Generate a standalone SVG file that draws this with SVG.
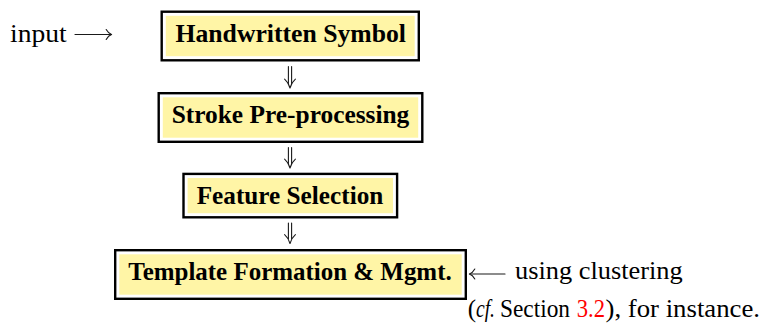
<svg xmlns="http://www.w3.org/2000/svg" width="766" height="325" viewBox="0 0 766 325">
  <defs>
    <style>
      .frame { fill: #ffffff; stroke: #000000; stroke-width: 2.4; }
      .fill { fill: #fff5a6; stroke: none; }
      .label { font-family: "Liberation Serif", "Times New Roman", serif; font-size: 25px; font-weight: bold; fill: #000000; }
      .note { font-family: "Liberation Serif", "Times New Roman", serif; font-size: 25px; fill: #000000; }
      .arr { fill: none; stroke: #1a1a1a; stroke-width: 1.1; stroke-linecap: round; stroke-linejoin: round; }
    </style>
  </defs>

  <rect x="0" y="0" width="766" height="325" fill="#ffffff"/>

  <g id="node-handwritten-symbol">
    <rect class="frame" x="161.7" y="11.7" width="257.1" height="48.6"/>
    <rect class="fill" x="165.8" y="15.8" width="248.9" height="40.4"/>
    <text class="label" x="175.5" y="41.7" textLength="230.5" lengthAdjust="spacingAndGlyphs">Handwritten Symbol</text>
  </g>

  <g id="node-stroke-preprocessing">
    <rect class="frame" x="158.7" y="93.2" width="263.6" height="48.6"/>
    <rect class="fill" x="162.8" y="97.3" width="255.4" height="40.4"/>
    <text class="label" x="171.7" y="123" textLength="237.6" lengthAdjust="spacingAndGlyphs">Stroke Pre-processing</text>
  </g>

  <g id="node-feature-selection">
    <rect class="frame" x="183.5" y="173.9" width="213.6" height="43.4"/>
    <rect class="fill" x="187.6" y="178" width="205.4" height="35.2"/>
    <text class="label" x="196.7" y="204" textLength="186.6" lengthAdjust="spacingAndGlyphs">Feature Selection</text>
  </g>

  <g id="node-template-formation">
    <rect class="frame" x="115.2" y="250.2" width="350.6" height="48.6"/>
    <rect class="fill" x="119.3" y="254.3" width="342.4" height="40.4"/>
    <text class="label" x="128.3" y="279.5" textLength="323.4" lengthAdjust="spacingAndGlyphs">Template Formation &amp; Mgmt.</text>
  </g>

  <g id="label-input">
    <text class="note" x="10" y="41.7" textLength="56.7" lengthAdjust="spacingAndGlyphs">input</text>
  </g>

  <g id="label-clustering">
    <text class="note" x="515" y="279" textLength="167.7" lengthAdjust="spacingAndGlyphs">using clustering</text>
    <text class="note" y="316.7"><tspan x="467.7">(</tspan><tspan x="476" font-style="italic" textLength="19" lengthAdjust="spacingAndGlyphs">cf.</tspan><tspan x="500" textLength="70" lengthAdjust="spacingAndGlyphs">Section</tspan><tspan x="576.7" fill="#ff0000" textLength="28.3" lengthAdjust="spacingAndGlyphs">3.2</tspan><tspan x="605.5" textLength="154.5" lengthAdjust="spacingAndGlyphs">), for instance.</tspan></text>
  </g>

  <g id="connectors">
    <path class="arr" d="M75 34.5 H111"/>
    <path class="arr" d="M106.2 29.6 C107.5 32 109.3 33.8 111.6 34.5 C109.3 35.2 107.5 37 106.2 39.4"/>
    <path class="arr" d="M288.4 66.5 V83.5 M291.6 66.5 V83.5"/>
    <path class="arr" d="M284.6 79.2 C286.9 81.2 289 84.3 290 88 C291 84.3 293.1 81.2 295.4 79.2"/>
    <path class="arr" d="M288.4 147.5 V163.5 M291.6 147.5 V163.5"/>
    <path class="arr" d="M284.6 159.2 C286.9 161.2 289 164.3 290 168 C291 164.3 293.1 161.2 295.4 159.2"/>
    <path class="arr" d="M288.4 223 V239 M291.6 223 V239"/>
    <path class="arr" d="M284.6 234.7 C286.9 236.7 289 239.8 290 243.5 C291 239.8 293.1 236.7 295.4 234.7"/>
    <path class="arr" d="M470 274 H505"/>
    <path class="arr" d="M474.8 269.1 C473.5 271.5 471.7 273.3 469.4 274 C471.7 274.7 473.5 276.5 474.8 278.9"/>
  </g>
</svg>
